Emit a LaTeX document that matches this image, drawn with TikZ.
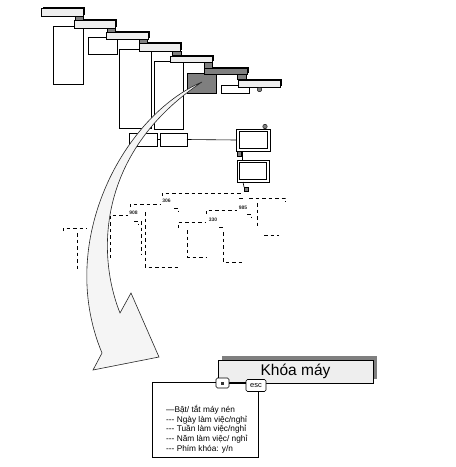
\documentclass[tikz,border=0pt]{standalone}
\usepackage{fontspec}
\setmainfont{Liberation Sans}
\usetikzlibrary{calc}
\definecolor{barfill}{HTML}{EEEEEE}
\definecolor{darkfill}{HTML}{7F7F7F}
\definecolor{arrowfill}{HTML}{F5F5F5}
\definecolor{iconfill}{HTML}{808080}
\newcommand\rectnode[6]{%
  \pgfmathsetmacro\rw{#4-#2}\pgfmathsetmacro\rh{#5-#3}%
  \node[#6, minimum width=\rw pt, minimum height=\rh pt] (#1) at (#2,#3) {};}
\newcommand\shadowbar[6]{%
  \fill[black] (#2+1.5,#3-1.5) rectangle (#4+1.5,#5-1.5);
  \rectnode{#1}{#2}{#3}{#4}{#5}{#6}}
\begin{document}
\begin{tikzpicture}[x=1pt,y={(0pt,-1pt)},
  boxst/.style={draw, line width=0.6pt, fill=white, inner sep=0pt, outer sep=0pt, anchor=north west},
  barst/.style={boxst, fill=barfill},
  darkst/.style={boxst, fill=darkfill},
  iconst/.style={draw=black, line width=0.4pt, fill=iconfill, inner sep=0pt, outer sep=0pt, anchor=north west},
  dl/.style={line width=0.7pt, dash pattern=on 3.5pt off 3pt},
  tinylabel/.style={font=\fontsize{5}{5}\selectfont\bfseries, text=black!85, inner sep=0pt},
  conn/.style={line width=0.6pt}]
\useasboundingbox (0,0) rectangle (456,467);
% ---------- top boxes ----------
\rectnode{B1}{53}{26}{83}{84}{boxst}
\rectnode{B2}{88}{37}{117}{54}{boxst}
\rectnode{B3}{119}{49}{151}{128}{boxst}
\rectnode{B4}{154}{61}{183}{129}{boxst}
\rectnode{BD}{187}{73}{216}{93}{darkst}
\rectnode{BW}{221}{85}{249}{93}{boxst}
% ---------- bars ----------
\shadowbar{T1}{41}{8}{83}{16}{barst}
\shadowbar{T2}{74}{20}{115}{28}{barst}
\shadowbar{T3}{106}{32}{148}{39}{barst}
\shadowbar{T4}{139}{43}{180}{51}{barst}
\shadowbar{T5}{170}{56}{212}{62}{barst}
\shadowbar{T6}{204}{68}{247}{74}{darkst}
\shadowbar{T7}{238}{80}{280}{87}{barst}
% ---------- small icons ----------
\rectnode{I1}{75}{16}{83}{20}{iconst}
\rectnode{I2}{107}{28}{115}{32}{iconst}
\rectnode{I3}{139}{39}{147}{43}{iconst}
\rectnode{I4}{172}{51}{181}{55}{iconst}
\rectnode{I5}{204}{62}{212}{68}{iconst}
\rectnode{I6}{237}{74}{246}{79}{iconst}
\node[circle, draw=black, fill=iconfill, line width=0.4pt, minimum size=4.5pt, inner sep=0pt] (I7) at (259.5,89.5) {};
% ---------- middle row ----------
\rectnode{Ba}{129}{133}{157}{146}{boxst}
\rectnode{Bb}{160}{133}{187}{146}{boxst}
\rectnode{DB1}{236}{129}{270}{151}{boxst}
\rectnode{DB1i}{239}{131.5}{267}{148.5}{boxst}
\rectnode{DB2}{237}{160}{269}{182}{boxst}
\rectnode{DB2i}{239.5}{162.5}{266.5}{179.5}{boxst}
\node[circle, draw=black, fill=iconfill, line width=0.4pt, minimum size=4.5pt, inner sep=0pt] (C1) at (265,126.5) {};
\rectnode{S1}{237}{151.5}{241}{156}{iconst}
\rectnode{S2}{244}{187}{248}{191}{iconst}
\draw[conn] (Ba.east) -- (Bb.west);
\draw[conn] (Bb.east) -- (DB1.west);
\draw[conn] ([xshift=6pt]DB1.south west) -- ([xshift=5pt]DB2.north west);
\draw[conn] ([xshift=6pt]DB2.south west) -- (S2.north west);
% ---------- dashed cascade ----------
\draw[dl] (63,231)--(63,228)--(87,228);
\draw[dl] (77,233)--(77,272);
\draw[dl] (110,258)--(110,215)--(128,215);
\node[tinylabel] (L908) at (133.5,213) {908};
\draw[dl] (134,221)--(138,221)--(138,225);
\draw[dl] (141,221)--(141,255);
\draw[dl] (145,212)--(145,267)--(180,267);
\draw[dl] (130,207)--(130,204)--(160,204);
\node[tinylabel] (L306) at (166.5,201) {306};
\draw[dl] (174,208)--(178,208)--(178,212);
\draw[dl] (162,196)--(162,193)--(241,193);
\draw[dl] (239,198)--(243,198);
\draw[dl] (249,198)--(281,198)--(285,198)--(285,202);
\draw[dl] (257,203)--(257,228);
\draw[dl] (264,235)--(279,235);
\node[tinylabel] (L985) at (243,207.5) {985};
\draw[dl] (247,214)--(251,214)--(251,218);
\draw[dl] (206,214)--(206,210)--(237,210);
\node[tinylabel] (L330) at (213,220) {330};
\draw[dl] (219,227)--(222,227)--(222,230);
\draw[dl] (223,232)--(223,262)--(243,262);
\draw[dl] (178,228)--(178,222)--(205,222);
\draw[dl] (187,230)--(187,257)--(207,257);
% ---------- bottom ----------
\fill[darkfill] (222,356) rectangle (377,379);
\node[barst, minimum width=155pt, minimum height=23pt] (KM) at (218,360) {};
\node[font=\fontsize{15.5}{18}\selectfont, inner sep=0pt] (KMtext) at (KM.center) {Khóa máy};
\rectnode{TB}{152}{382}{258}{457}{boxst}
\node[draw, line width=0.6pt, fill=white, rounded corners=1.5pt, minimum width=13pt, minimum height=10pt, inner sep=0pt] (SQ) at (222.5,383) {\textcolor{black!80}{\rule{3pt}{3pt}}};
\node[draw, line width=0.6pt, fill=white, rounded corners=1.5pt, minimum width=20pt, minimum height=12pt, inner sep=0pt, font=\fontsize{7.5}{8}\selectfont] (ESC) at (256,385.5) {esc};
\draw[conn] (SQ.east) -- (SQ.east -| ESC.west);
\begin{scope}[every node/.style={anchor=west, inner sep=0pt, font=\fontsize{8.3}{9}\selectfont}]
\node (t1) at (166,410) {—Bật/ tắt máy nén};
\node (t2) at (166,420) {-{}-{}- Ngày làm việc/nghỉ};
\node (t3) at (166,429.5) {-{}-{}- Tuần làm việc/nghỉ};
\node (t4) at (166,439) {-{}-{}- Năm làm việc/ nghỉ};
\node (t5) at (166,449) {-{}-{}- Phím khóa: y/n};
\end{scope}
% ---------- curved arrow ----------
\filldraw[fill=arrowfill, draw=black!85, line width=0.6pt]
  (202,82) .. controls (125,115) and (55,240) .. (102,353)
  -- (93,370) -- (159,357) -- (131,293) -- (120,313)
  .. controls (95,250) and (100,150) .. (202,82) -- cycle;
\end{tikzpicture}
\end{document}
